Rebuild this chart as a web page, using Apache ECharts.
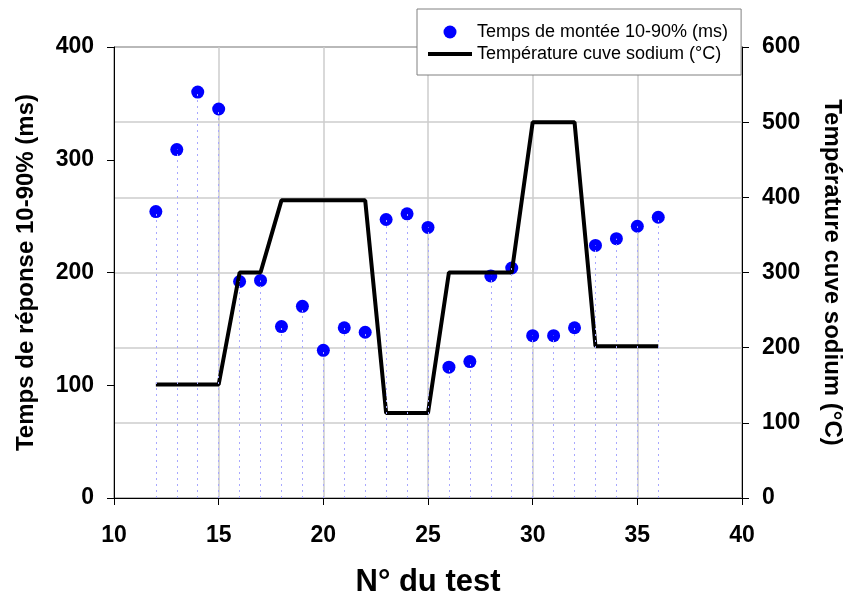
<!DOCTYPE html>
<html>
<head>
<meta charset="utf-8">
<script src="https://cdn.jsdelivr.net/npm/echarts@6/dist/echarts.min.js"></script>
<style>
  html, body { margin: 0; padding: 0; background: #fff; }
  #chart { width: 850px; height: 597px; }
</style>
</head>
<body>
<div id="chart"></div>
<script>
// N° du test
var testNo = [12, 13, 14, 15, 16, 17, 18, 19, 20, 21, 22, 23, 24, 25, 26, 27, 28, 29, 30, 31, 32, 33, 34, 35, 36];
// temps de montée 10-90% (ms)
var riseTime = [254, 309, 360, 345, 192, 193, 152, 170, 131, 151, 147, 247, 252, 240, 116, 121, 197, 204, 144, 144, 151, 224, 230, 241, 249];
// température cuve sodium (°C)
var sodiumTemp = [151, 151, 151, 151, 300, 300, 396, 396, 396, 396, 396, 113, 113, 113, 300, 300, 300, 300, 500, 500, 500, 202, 202, 202, 202];

var leftTicks = [0, 100, 200, 300, 400];
var rightTicks = [0, 100, 200, 300, 400, 500, 600];

var nameRise = 'Temps de montée 10-90% (ms)';
var nameTemp = 'Température cuve sodium (°C)';

var font = '"Liberation Sans", Arial, sans-serif';

var scatterData = testNo.map(function (x, i) { return [x, riseTime[i]]; });
var lineData = testNo.map(function (x, i) { return [x, sodiumTemp[i]]; });
// lignes pointillées verticales sous chaque point
var dropLines = testNo.map(function (x, i) {
    return [{ coord: [x, 0] }, { coord: [x, riseTime[i]] }];
});

var chart = echarts.init(document.getElementById('chart'));

var tickLabel = { fontFamily: font, fontSize: 23, fontWeight: 'bold', color: '#000' };

var option = {
    backgroundColor: '#fff',
    animation: false,
    textStyle: { fontFamily: font, color: '#000' },
    grid: {
        left: 114, right: 108, top: 47, bottom: 99,
        outerBoundsMode: 'none',
        containLabel: false,
        show: true, borderColor: '#000', borderWidth: 1, backgroundColor: 'transparent'
    },
    legend: {
        orient: 'vertical',
        left: 417, top: 9,
        padding: [14, 13, 12, 11],
        itemWidth: 44, itemHeight: 13, itemGap: 4,
        backgroundColor: '#fff',
        borderColor: '#808080', borderWidth: 1,
        textStyle: { fontFamily: font, fontSize: 18, color: '#000' },
        data: [
            { name: nameRise, icon: 'circle' },
            { name: nameTemp, icon: 'path://M0,0L44,0L44,4L0,4Z' }
        ]
    },
    xAxis: {
        type: 'value',
        min: 10, max: 40, interval: 5,
        name: 'N° du test',
        nameLocation: 'middle',
        nameGap: 69,
        nameTextStyle: { fontFamily: font, fontSize: 31, fontWeight: 'bold', color: '#000' },
        axisLine: { lineStyle: { color: '#000', width: 1 } },
        axisTick: { length: 7, lineStyle: { color: '#000' } },
        axisLabel: Object.assign({ margin: 26 }, tickLabel),
        splitLine: { show: true, lineStyle: { color: '#cccccc', width: 1.5 } }
    },
    yAxis: [{
        type: 'value',
        min: leftTicks[0], max: leftTicks[leftTicks.length - 1], interval: 100,
        name: 'Temps de réponse 10-90% (ms)',
        nameLocation: 'middle',
        nameGap: 76,
        nameTextStyle: { fontFamily: font, fontSize: 24, fontWeight: 'bold', color: '#000' },
        axisLine: { show: true, lineStyle: { color: '#000', width: 1 } },
        axisTick: { show: true, length: 7, lineStyle: { color: '#000' } },
        axisLabel: Object.assign({ margin: 20 }, tickLabel),
        splitLine: { show: false }
    }, {
        type: 'value',
        position: 'right',
        min: rightTicks[0], max: rightTicks[rightTicks.length - 1], interval: 100,
        name: 'Température cuve sodium (°C)',
        nameLocation: 'middle',
        nameRotate: -90,
        nameGap: 78,
        nameTextStyle: { fontFamily: font, fontSize: 24, fontWeight: 'bold', color: '#000' },
        axisLine: { show: true, lineStyle: { color: '#000', width: 1 } },
        axisTick: { show: true, length: 7, lineStyle: { color: '#000' } },
        axisLabel: Object.assign({ margin: 20 }, tickLabel),
        splitLine: { show: true, lineStyle: { color: '#cccccc', width: 1.5 } }
    }],
    series: [{
        name: nameRise,
        type: 'scatter',
        yAxisIndex: 0,
        symbolSize: 13,
        itemStyle: { color: '#0000ff', opacity: 1 },
        data: scatterData,
        z: 3,
        markLine: {
            silent: true,
            symbol: ['none', 'none'],
            label: { show: false },
            lineStyle: { color: '#a8a8ff', width: 1, type: [2, 4] },
            data: dropLines
        }
    }, {
        name: nameTemp,
        type: 'line',
        yAxisIndex: 1,
        symbol: 'none',
        lineStyle: { color: '#000', width: 4 },
        itemStyle: { color: '#000' },
        data: lineData,
        z: 4
    }]
};

chart.setOption(option);
</script>
</body>
</html>
